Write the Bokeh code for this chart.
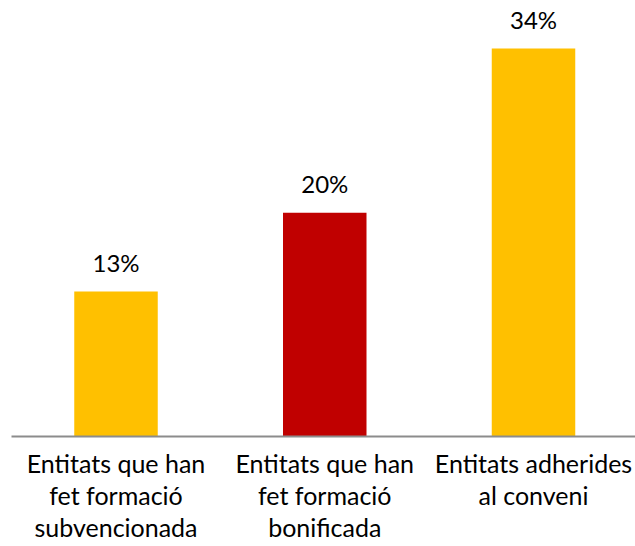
from bokeh.plotting import figure
from bokeh.models import Range1d, FixedTicker, ColumnDataSource
from bokeh.core.properties import value
from bokeh.embed import file_html
from bokeh.resources import INLINE

categories = [
    "Entitats que han\nfet formació\nsubvencionada",
    "Entitats que han\nfet formació\nbonificada",
    "Entitats adherides\nal conveni",
]
values = [12.7, 19.6, 34.0]
labels = ["13%", "20%", "34%"]
colors = ["#FFC000", "#C00000", "#FFC000"]
positions = list(range(len(categories)))

FONT = "Lato"

p = figure(
    width=635, height=546, output_backend="svg", toolbar_location=None,
    x_range=Range1d(-0.5006, 2.4886), y_range=Range1d(0, 38.2),
    y_axis_location=None,
    min_border_left=11, min_border_right=0, min_border_top=0, min_border_bottom=110,
)
p.outline_line_color = None
p.grid.visible = False
p.background_fill_color = "white"

src = ColumnDataSource(dict(x=positions, top=values, color=colors, label=labels))
p.vbar(x="x", top="top", bottom=0, width=0.4, fill_color="color", line_color=None, source=src)
p.text(x="x", y="top", text="label", source=src, text_align="center",
       text_baseline="alphabetic", y_offset=-29, text_font=value(FONT),
       text_font_size="24px", text_color="black")

xa = p.xaxis[0]
xa.ticker = FixedTicker(ticks=positions)
xa.major_label_overrides = {i: c for i, c in enumerate(categories)}
xa.major_tick_line_color = None
xa.minor_tick_line_color = None
xa.axis_line_color = "#8C8C8C"
xa.axis_line_width = 2
xa.major_label_text_font = FONT
xa.major_label_text_font_size = "25px"
xa.major_label_text_color = "black"
xa.major_label_text_line_height = 1.08
xa.major_label_standoff = 5

open("out.html", "w").write(file_html(p, INLINE))
